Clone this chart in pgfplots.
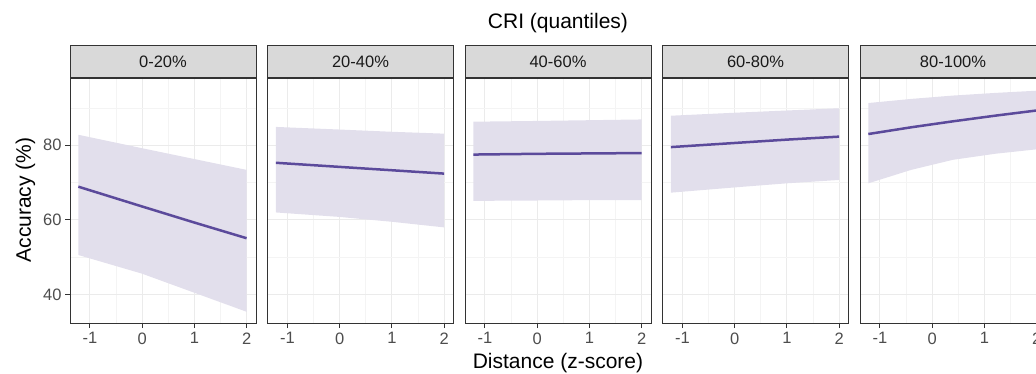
\documentclass[border=0pt]{standalone}
\usepackage{pgfplots}
\pgfplotsset{compat=1.18}
\usepackage{fontspec}
\setmainfont{Liberation Sans}
\definecolor{linecol}{HTML}{5B4A9B}
\definecolor{ribcol}{HTML}{E2DFEC}
\definecolor{stripfill}{HTML}{D9D9D9}
\definecolor{grey20}{HTML}{333333}
\definecolor{grey30}{HTML}{4D4D4D}
\definecolor{grey10}{HTML}{1A1A1A}
\definecolor{gridcol}{HTML}{EBEBEB}
\definecolor{gridminor}{HTML}{F4F4F4}
\pgfplotsset{
  facet/.style={
    at={(#1pt,-323pt)}, anchor=south west,
    scale only axis, width=186pt, height=245pt,
    xmin=-1.38, xmax=2.18, ymin=32.4, ymax=98,
    xtick={-1,0,1,2}, xticklabels={-1,0,1,2},
    ytick={40,60,80},
    minor xtick={-0.5,0.5,1.5}, minor ytick={50,70,90},
    grid=both,
    major grid style={color=gridcol, line width=0.9pt},
    minor grid style={color=gridminor, line width=0.6pt},
    axis line style={grey20, line width=0.9pt},
    tick align=outside, major tick length=5pt, minor tick length=0pt,
    every tick/.style={grey20, line width=0.9pt},
    xtick pos=bottom, ytick pos=left,
    /pgf/number format/assume math mode=true,
    tick label style={font=\fontsize{16.5}{18}\selectfont, text=grey30},
    xticklabel style={yshift=-1pt},
    every axis title/.style={at={(0.5,1)}, anchor=south, fill=stripfill, draw=grey20,
      line width=0.9pt, minimum width=186pt, minimum height=32pt, inner sep=0pt,
      font=\fontsize{16.5}{18}\selectfont, text=grey10},
  },
  ribbon/.style={fill=ribcol, draw=none, forget plot},
  fit/.style={linecol, line width=2.5pt, no marks},
  noy/.style={yticklabels={}, ytick style={draw=none}},
}
\begin{document}
\begin{tikzpicture}
% Panel 1
\begin{axis}[facet=70, title={0-20\%}, yticklabels={40,60,80}]
\addplot[ribbon] coordinates {(-1.22,82.8) (0,79.2) (1,76.3) (2,73.4) (2,35.4) (1,40.5) (0,45.6) (-1.22,50.6)} --cycle;
\addplot[fit] coordinates {(-1.22,68.9) (0,63.6) (1,59.3) (2,55.1)};
\end{axis}
% Panel 2
\begin{axis}[facet=267.5, title={20-40\%}, noy]
\addplot[ribbon] coordinates {(-1.22,84.9) (0,84.2) (1,83.6) (2,83.1) (2,58.0) (1,59.5) (0,60.8) (-1.22,62.0)} --cycle;
\addplot[fit] coordinates {(-1.22,75.3) (0,74.2) (1,73.3) (2,72.4)};
\end{axis}
% Panel 3
\begin{axis}[facet=465, title={40-60\%}, noy]
\addplot[ribbon] coordinates {(-1.22,86.3) (0,86.5) (1,86.7) (2,86.9) (2,65.3) (1,65.3) (0,65.2) (-1.22,65.1)} --cycle;
\addplot[fit] coordinates {(-1.22,77.5) (0,77.7) (1,77.8) (2,77.9)};
\end{axis}
% Panel 4
\begin{axis}[facet=662.5, title={60-80\%}, noy]
\addplot[ribbon] coordinates {(-1.22,87.9) (0,88.7) (1,89.3) (2,89.9) (2,70.7) (1,69.8) (0,68.7) (-1.22,67.3)} --cycle;
\addplot[fit] coordinates {(-1.22,79.5) (0,80.6) (1,81.5) (2,82.3)};
\end{axis}
% Panel 5
\begin{axis}[facet=860, title={80-100\%}, noy]
\addplot[ribbon] coordinates {(-1.22,91.3) (-0.4,92.4) (0.4,93.3) (1.2,94.0) (2,94.6) (2,78.9) (1.2,77.7) (0.4,76.1) (-0.4,73.4) (-1.22,69.8)} --cycle;
\addplot[fit] coordinates {(-1.22,83.0) (-0.4,84.8) (0.4,86.4) (1.2,87.9) (2,89.3)};
\end{axis}
\node[font=\fontsize{21}{24}\selectfont, text=black] at (558pt,-23.5pt) {CRI (quantiles)};
\node[font=\fontsize{21}{24}\selectfont, text=black] at (558pt,-363pt) {Distance (z-score)};
\node[font=\fontsize{21}{24}\selectfont, text=black, rotate=90] at (25.5pt,-200pt) {Accuracy (\%)};
\pgfresetboundingbox
\useasboundingbox (0pt,0pt) rectangle (1036pt,-374pt);
\end{tikzpicture}
\end{document}
